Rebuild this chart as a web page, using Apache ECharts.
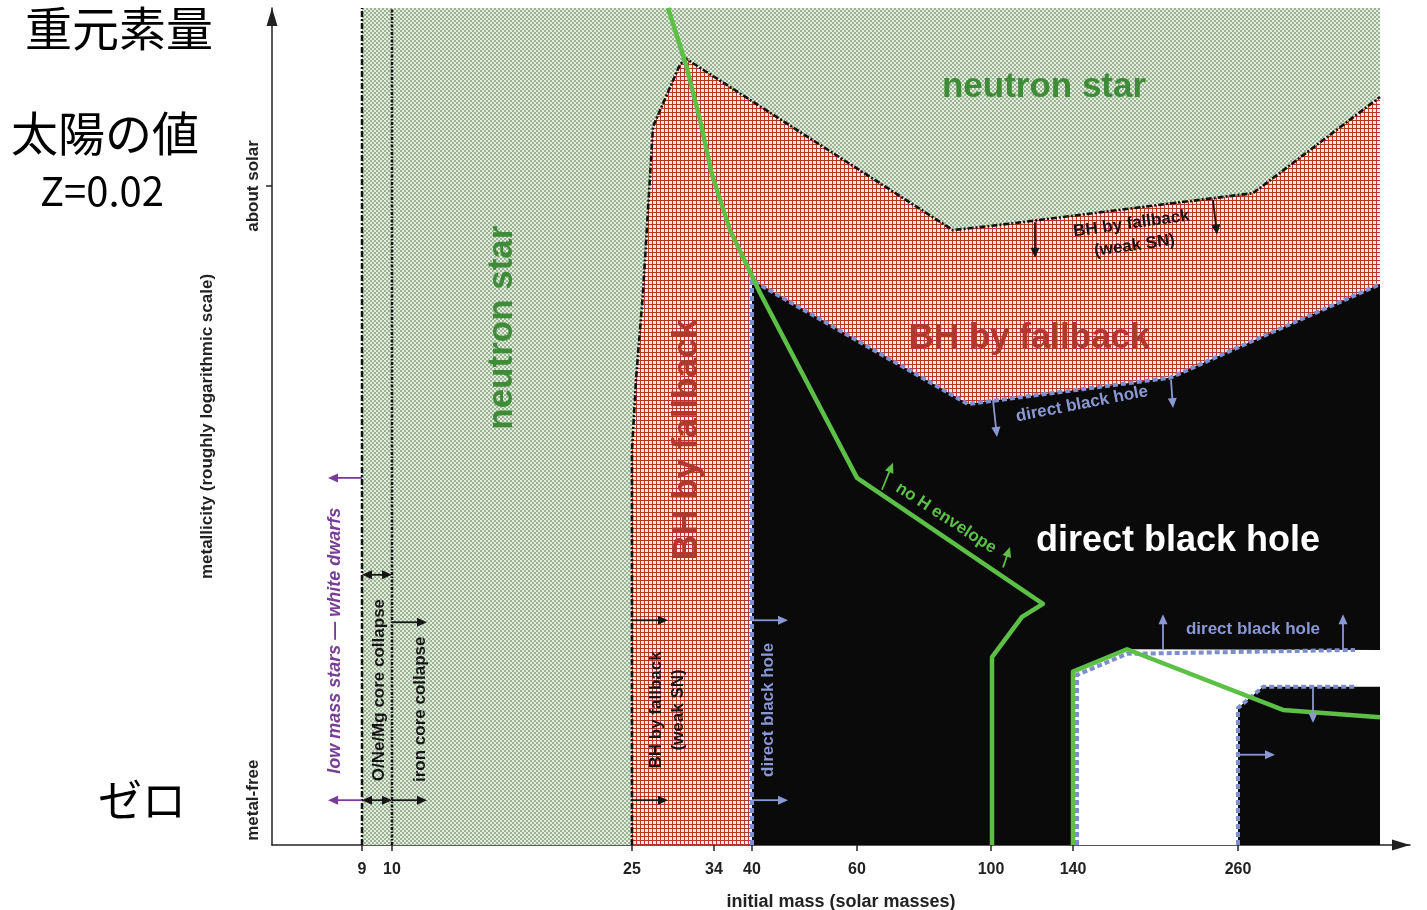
<!DOCTYPE html>
<html><head><meta charset="utf-8">
<script src="https://cdn.jsdelivr.net/npm/echarts@6/dist/echarts.min.js"></script>
<style>html,body{margin:0;padding:0;background:#fff;}#c{width:1427px;height:910px;}</style>
</head><body><div id="c"></div>
<script>
// Schematic axes: x = position along the (non-uniform) initial-mass axis,
// y = schematic metallicity (about solar = 100, metal-free near 0).
const massTickPos = [90, 120, 360, 442, 480, 585, 719, 801, 966];
const massTickLabels = ['9', '10', '25', '34', '40', '60', '100', '140', '260'];
const metalTickPos = [100, 6.8];
const metalTickLabels = ['about solar', 'metal-free'];

// Regions (polygon vertices in axis units)
const neutronStarRegion = [[90, 0], [90, 127], [1108, 127], [1108, 0]];
const fallbackRegion = [[360, 0], [360, 59.9], [364, 70.6], [371, 83.8], [381, 109.0], [407, 118.1], [413, 119.4], [681, 93.3], [728, 94.1], [981, 98.9], [1108, 113.5], [1108, 0]];
const directBHRegion = [[480, 0], [480, 85.7], [696, 66.9], [898, 70.9], [1108, 85.1], [1108, 0]];
const pairInstabilityRegion = [[801, 0], [801, 26.3], [855, 29.7], [1108, 29.6], [1108, 24.0], [991, 24.0], [966, 20.8], [966, 0]];

// Boundaries
const mass9Line = [[90, 0], [90, 127]];
const mass10Line = [[120, 0], [120, 127]];
const fallbackBoundary = [[360, 0], [360, 59.9], [364, 70.6], [371, 83.8], [381, 109.0], [407, 118.1], [413, 119.4], [681, 93.3], [728, 94.1], [981, 98.9], [1108, 113.5]];
const directBHBoundary = [[480, 0], [480, 85.7], [696, 66.9], [898, 70.9], [1108, 85.1]];
const pisnUpperBoundary = [[805, 0], [805, 25.8], [855, 29.0], [1083, 29.6]];
const pisnLowerBoundary = [[966, 0], [966, 20.8], [991, 24.0], [1083, 24.0]];
const noHEnvelopeLine = [[396, 127], [414, 118.4], [428, 110.0], [440, 101.7], [458, 93.3], [488, 83.8], [585, 55.7], [771, 36.6], [750, 34.6], [720, 28.5], [720, 0]];
const pisnEnvelopeLine = [[801, 0], [801, 26.3], [855, 29.7], [1011, 20.5], [1108, 19.4]];

// Arrows [x1, y1, x2, y2]
const blackArrows = [[763, 94.5, 763, 89.1], [941, 97.9, 945, 92.6], [360, 34.1, 396, 34.1], [360, 6.8, 396, 6.8], [120, 33.8, 155, 33.8], [120, 6.8, 155, 6.8]];
const blackDoubleArrows = [[90, 41.0, 120, 41.0], [90, 6.8, 120, 6.8]];
const purpleArrows = [[90, 55.7, 56, 55.7], [90, 6.8, 56, 6.8]];
const blueArrows = [[721, 67.5, 725, 61.9], [899, 70.6, 901, 66.3], [891, 29.6, 891, 35.0], [1071, 29.6, 1071, 35.0], [1041, 23.8, 1041, 18.5], [966, 13.7, 1003, 13.7], [480, 34.1, 516, 34.1], [480, 6.8, 516, 6.8]];
const greenArrows = [[610, 53.9, 621, 58.0], [731, 42.1, 738, 45.2]];

// Annotation texts with anchor (axis units) and rotation (deg)
const annotationTexts = ['neutron star', 'neutron star', 'BH by fallback', 'BH by fallback', 'BH by fallback\n(weak SN)', 'direct black hole', 'no H envelope', 'direct black hole', 'direct black hole', 'direct black hole', 'BH by fallback\n(weak SN)', 'low mass stars — white dwarfs', 'O/Ne/Mg core collapse', 'iron core collapse'];
const annotationX = [772, 230, 415, 757, 861, 810, 674, 906, 981, 496, 395, 63, 107, 148];
const annotationY = [115.0, 78.5, 61.5, 76.9, 92.6, 66.9, 49.6, 46.1, 32.8, 20.5, 20.5, 31.0, 23.5, 20.6];
const annotationRot = [0, 90, 90, 0, 8, 11, -33, 0, 0, 90, 90, 90, 90, 90];
const annotationKind = ['ns', 'ns', 'fb', 'fb', 'black', 'blue', 'green', 'white', 'blue', 'blue', 'black', 'purple', 'black', 'black'];

const FONT = '"Liberation Sans", Arial, Helvetica, sans-serif';
const textStyles = {
  ns: { font: 'bold 35px ' + FONT, fill: '#3e8c37' },
  fb: { font: 'bold 35px ' + FONT, fill: '#b0392d' },
  white: { font: 'bold 36px ' + FONT, fill: '#ffffff' },
  black: { font: 'bold 17px ' + FONT, fill: '#151515', lineHeight: 22 },
  blue: { font: 'bold 17px ' + FONT, fill: '#8a98d4' },
  green: { font: 'bold 17px ' + FONT, fill: '#5cbf4a' },
  purple: { font: 'italic bold 18px ' + FONT, fill: '#7a3d95' }
};

function makePattern(w, h, bg, fg, rects) {
  const c = document.createElement('canvas');
  c.width = w; c.height = h;
  const g = c.getContext('2d');
  g.fillStyle = bg; g.fillRect(0, 0, w, h);
  g.fillStyle = fg;
  rects.forEach(r => g.fillRect(r[0], r[1], r[2], r[3]));
  return { image: c, repeat: 'repeat' };
}
const greenPattern = makePattern(4, 4, '#9ab393', '#e4ece0', [[0, 0, 2, 2], [2, 2, 2, 2]]);
const redPattern = makePattern(4, 4, '#f8ece9', '#b03a32', [[0, 0, 4, 1], [0, 0, 1, 4]]);

function polygonSeries(points, fill) {
  return {
    type: 'custom', coordinateSystem: 'cartesian2d', silent: true, animation: false,
    data: [[points[0][0], points[0][1]]],
    renderItem: (params, api) => ({ type: 'polygon', shape: { points: points.map(p => api.coord(p)) }, style: { fill: fill } })
  };
}
function polylineSeries(points, stroke, lw, dash) {
  return {
    type: 'custom', coordinateSystem: 'cartesian2d', silent: true, animation: false,
    data: [[points[0][0], points[0][1]]],
    renderItem: (params, api) => ({ type: 'polyline', shape: { points: points.map(p => api.coord(p)) }, style: { stroke: stroke, lineWidth: lw, lineDash: dash || null, fill: null, lineJoin: 'round' } })
  };
}
function head(tip, ux, uy, hl, hw) {
  return [[tip[0], tip[1]], [tip[0] - ux * hl - uy * hw, tip[1] - uy * hl + ux * hw], [tip[0] - ux * hl + uy * hw, tip[1] - uy * hl - ux * hw]];
}
function arrowSeries(list, color, both) {
  return {
    type: 'custom', coordinateSystem: 'cartesian2d', silent: true, animation: false,
    data: list.map(a => a.slice()),
    encode: { x: [0, 2], y: [1, 3] },
    renderItem: (params, api) => {
      const p1 = api.coord([api.value(0), api.value(1)]);
      const p2 = api.coord([api.value(2), api.value(3)]);
      const dx = p2[0] - p1[0], dy = p2[1] - p1[1];
      const L = Math.hypot(dx, dy) || 1;
      const ux = dx / L, uy = dy / L;
      const hl = 10, hw = 4.5;
      const s = both ? [p1[0] + ux * hl * 0.8, p1[1] + uy * hl * 0.8] : p1;
      const e = [p2[0] - ux * hl * 0.8, p2[1] - uy * hl * 0.8];
      const children = [
        { type: 'line', shape: { x1: s[0], y1: s[1], x2: e[0], y2: e[1] }, style: { stroke: color, lineWidth: 1.8 } },
        { type: 'polygon', shape: { points: head(p2, ux, uy, hl, hw) }, style: { fill: color } }
      ];
      if (both) children.push({ type: 'polygon', shape: { points: head(p1, -ux, -uy, hl, hw) }, style: { fill: color } });
      return { type: 'group', children: children };
    }
  };
}
const textSeries = {
  type: 'custom', coordinateSystem: 'cartesian2d', silent: true, animation: false,
  data: annotationX.map((x, i) => [x, annotationY[i]]),
  renderItem: (params, api) => {
    const i = params.dataIndex;
    const p = api.coord([api.value(0), api.value(1)]);
    const st = textStyles[annotationKind[i]];
    return {
      type: 'text', x: p[0], y: p[1], rotation: annotationRot[i] * Math.PI / 180,
      style: Object.assign({ text: annotationTexts[i], align: 'center', verticalAlign: 'middle' }, st)
    };
  }
};

function lookup(pos, labels, v) {
  const i = pos.findIndex(p => Math.abs(p - v) < 0.01);
  return i >= 0 ? labels[i] : '';
}

const chart = echarts.init(document.getElementById('c'), null, { renderer: 'canvas' });
chart.setOption({
  animation: false,
  backgroundColor: '#ffffff',
  grid: { left: 272, right: 17, top: 8, bottom: 65, containLabel: false, outerBoundsMode: 'none' },
  xAxis: {
    type: 'value', min: 0, max: 1138,
    name: 'initial mass (solar masses)', nameLocation: 'middle', nameGap: 48,
    nameTextStyle: { fontFamily: FONT, fontWeight: 'bold', fontSize: 18, color: '#222' },
    axisLine: { show: true, symbol: ['none', 'triangle'], symbolSize: [11, 18], symbolOffset: [0, -9], lineStyle: { color: '#222', width: 1.5 } },
    axisTick: { show: true, customValues: massTickPos, length: 6, lineStyle: { color: '#222', width: 1.5 } },
    axisLabel: { customValues: massTickPos, margin: 17, fontFamily: FONT, fontWeight: 'bold', fontSize: 16, color: '#222', formatter: v => lookup(massTickPos, massTickLabels, v) },
    splitLine: { show: false }
  },
  yAxis: {
    type: 'value', min: 0, max: 127,
    name: 'metallicity (roughly logarithmic scale)', nameLocation: 'middle', nameGap: 56, nameRotate: 90,
    nameTextStyle: { fontFamily: FONT, fontWeight: 'bold', fontSize: 17, color: '#222' },
    axisLine: { show: true, symbol: ['none', 'triangle'], symbolSize: [11, 18], symbolOffset: [0, -9], lineStyle: { color: '#222', width: 1.5 } },
    axisTick: { show: true, customValues: [metalTickPos[0]], length: 6, lineStyle: { color: '#222', width: 1.5 } },
    axisLabel: { customValues: metalTickPos, rotate: 90, margin: 10, fontFamily: FONT, fontWeight: 'bold', fontSize: 17, color: '#222', formatter: v => lookup(metalTickPos, metalTickLabels, v) },
    splitLine: { show: false }
  },
  graphic: [
    { type: 'text', x: 119, y: 28, style: { text: '重元素量', font: '47px "Noto Sans CJK JP"', fill: '#000', align: 'center', verticalAlign: 'middle' } },
    { type: 'text', x: 105, y: 133, style: { text: '太陽の値', font: '47px "Noto Sans CJK JP"', fill: '#000', align: 'center', verticalAlign: 'middle' } },
    { type: 'text', x: 102, y: 191, style: { text: 'Z=0.02', font: '40px "Noto Sans CJK JP"', fill: '#000', align: 'center', verticalAlign: 'middle' } },
    { type: 'text', x: 142, y: 800, style: { text: 'ゼロ', font: '44px "Noto Sans CJK JP"', fill: '#000', align: 'center', verticalAlign: 'middle' } }
  ],
  series: [
    polygonSeries(neutronStarRegion, greenPattern),
    polygonSeries(fallbackRegion, redPattern),
    polygonSeries(directBHRegion, '#0a0a0a'),
    polygonSeries(pairInstabilityRegion, '#ffffff'),
    polylineSeries(mass9Line, '#111', 2.5, [6, 2, 2, 2]),
    polylineSeries(mass10Line, '#111', 2.5, [3, 1.5, 1.5, 1.5]),
    polylineSeries(fallbackBoundary, '#111', 2.6, [6, 2, 2, 2]),
    polylineSeries(directBHBoundary, '#8090cf', 4, [5, 3]),
    polylineSeries(pisnUpperBoundary, '#7d8ecc', 4, [5, 3]),
    polylineSeries(pisnLowerBoundary, '#7d8ecc', 4, [5, 3]),
    polylineSeries(noHEnvelopeLine, '#5cbf46', 4.5),
    polylineSeries(pisnEnvelopeLine, '#5cbf46', 4.5),
    arrowSeries(blackArrows, '#151515', false),
    arrowSeries(blackDoubleArrows, '#151515', true),
    arrowSeries(purpleArrows, '#7a3d95', false),
    arrowSeries(blueArrows, '#8a98d4', false),
    arrowSeries(greenArrows, '#5cbf46', false),
    textSeries
  ]
});
</script></body></html>
